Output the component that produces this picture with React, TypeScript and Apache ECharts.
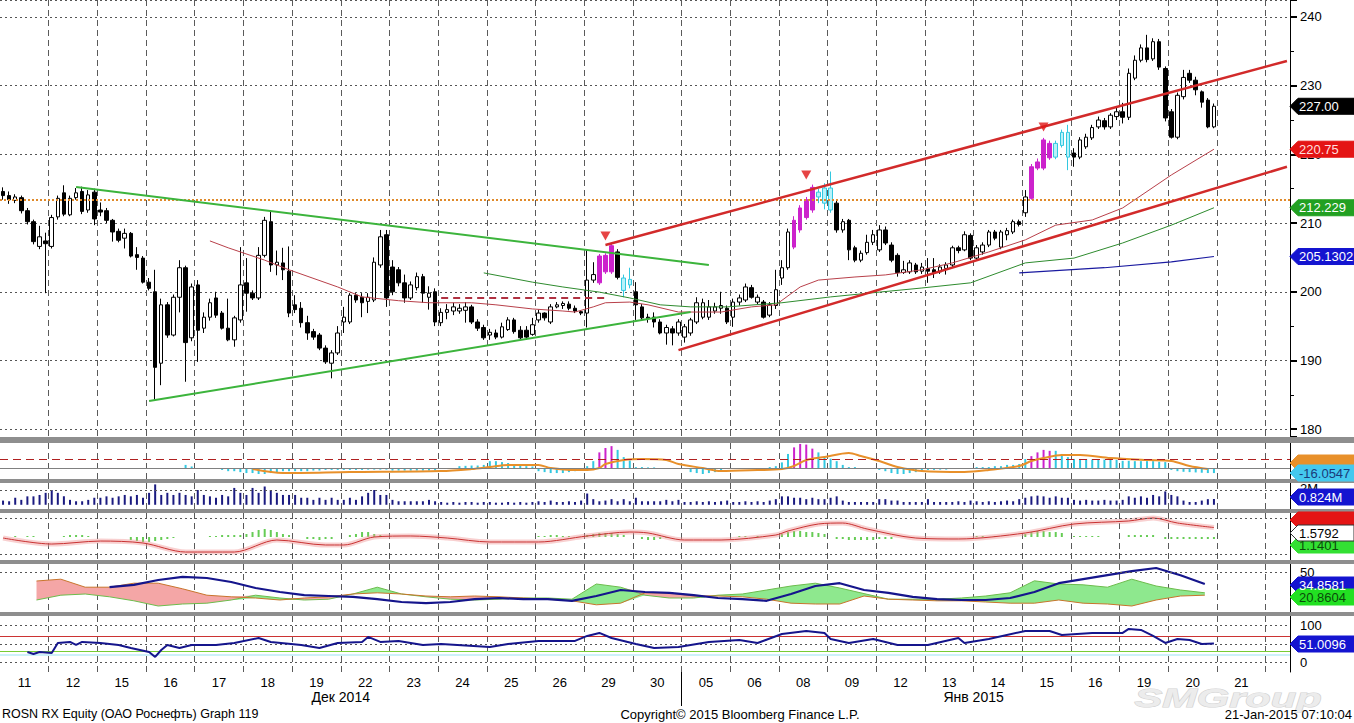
import React, { useEffect, useRef } from 'react';
import * as echarts from 'echarts';

// ---------- categories ----------
const dayLabels = ['11', '12', '15', '16', '17', '18', '19', '22', '23', '24', '25', '26', '29', '30', '05', '06', '08', '09', '12', '13', '14', '15', '16', '19', '20', '21'];
const BARS_PER_DAY = 8;
const TOTAL_SLOTS = 212;
const monthLabels = [
  { text: 'Дек 2014', day: 7.0 },
  { text: 'Янв 2015', day: 20.0 },
];
const yearBoundaryDay = 14;

// ---------- price bars: [open, close, low, high], 8 per trading day ----------
const ohlcByDay: number[][][] = [
  [[214.6, 214.0, 213.4, 215.2], [214.0, 213.4, 212.8, 214.6], [213.3, 213.8, 212.9, 214.2], [213.7, 211.8, 211.4, 214.0], [211.8, 210.2, 209.8, 212.2], [210.2, 207.3, 206.9, 210.5], [206.6, 208.0, 206.2, 209.6], [207.4, 207.0, 199.8, 208.6]],
  [[206.6, 210.8, 206.3, 211.2], [210.9, 213.6, 210.5, 214.0], [214.4, 211.3, 211.0, 215.5], [211.2, 213.6, 211.0, 214.0], [213.7, 214.4, 213.4, 215.1], [214.6, 211.7, 211.3, 215.3], [211.9, 214.1, 211.5, 214.8], [214.5, 210.6, 209.7, 215.0]],
  [[211.9, 211.6, 211.0, 213.0], [211.8, 210.4, 210.0, 212.2], [210.4, 208.7, 207.3, 210.6], [208.8, 207.5, 207.2, 209.2], [207.8, 208.5, 206.3, 209.2], [208.5, 205.2, 205.0, 208.7], [205.4, 205.0, 203.2, 206.5], [204.9, 201.4, 201.2, 205.2]],
  [[201.4, 200.5, 200.2, 202.0], [200.0, 189.0, 184.3, 203.2], [189.6, 198.1, 186.4, 199.0], [198.1, 193.7, 193.3, 198.5], [193.7, 199.2, 193.5, 199.6], [199.2, 203.5, 197.0, 204.6], [203.5, 192.6, 186.9, 203.8], [193.3, 200.7, 192.8, 201.2]],
  [[201.0, 194.4, 189.8, 201.7], [194.7, 196.3, 194.0, 197.0], [196.3, 198.4, 195.8, 199.0], [199.1, 196.6, 196.2, 200.0], [196.9, 194.7, 194.5, 197.2], [194.7, 193.0, 192.8, 199.0], [193.0, 196.2, 192.0, 196.5], [195.9, 201.0, 195.5, 206.5]],
  [[201.3, 199.8, 197.1, 204.9], [199.8, 199.1, 198.8, 200.2], [199.1, 205.3, 198.8, 206.5], [205.3, 210.4, 205.0, 210.9], [210.2, 203.9, 202.9, 211.9], [203.9, 204.3, 202.4, 206.0], [204.2, 203.2, 201.7, 206.4], [203.0, 196.9, 196.3, 206.6]],
  [[198.1, 197.4, 196.9, 199.5], [197.6, 195.5, 194.8, 198.5], [195.5, 194.0, 193.0, 196.5], [194.2, 193.4, 193.0, 194.6], [193.7, 191.8, 191.5, 194.0], [191.8, 189.8, 189.5, 192.2], [189.6, 191.1, 187.4, 191.5], [191.1, 194.0, 190.8, 195.0]],
  [[195.6, 196.3, 194.0, 197.8], [195.6, 199.5, 195.3, 199.8], [199.5, 198.8, 198.4, 199.8], [199.2, 198.4, 196.3, 199.8], [198.6, 199.2, 196.9, 199.8], [198.8, 204.3, 198.5, 205.0], [203.9, 208.0, 203.5, 209.0], [208.3, 199.1, 197.8, 209.0]],
  [[203.6, 200.0, 199.5, 204.6], [203.2, 201.3, 200.8, 203.6], [201.3, 199.1, 198.4, 202.5], [199.1, 201.0, 198.8, 201.5], [200.6, 202.2, 200.2, 202.8], [202.2, 199.8, 198.4, 202.6], [199.2, 199.8, 197.4, 200.8], [200.0, 195.6, 195.0, 200.5]],
  [[195.5, 197.0, 195.0, 197.6], [197.0, 197.4, 196.0, 198.2], [197.2, 197.8, 196.6, 198.4], [197.2, 197.6, 196.8, 198.2], [197.3, 197.8, 195.5, 198.5], [197.8, 195.6, 195.3, 198.1], [195.6, 194.7, 194.3, 196.0], [194.8, 193.3, 193.0, 195.2]],
  [[193.7, 194.1, 193.0, 194.6], [194.0, 193.4, 193.1, 194.5], [193.4, 194.9, 193.2, 195.5], [194.5, 195.9, 194.3, 196.3], [195.9, 194.2, 193.9, 196.2], [194.4, 193.3, 193.1, 195.0], [194.4, 193.4, 193.0, 195.0], [193.8, 195.2, 193.6, 196.2]],
  [[195.9, 196.9, 195.5, 197.4], [196.9, 196.2, 195.8, 197.0], [195.6, 197.8, 195.3, 198.2], [197.8, 198.1, 197.6, 198.5], [198.0, 198.3, 197.5, 198.6], [198.2, 197.6, 197.3, 198.6], [197.6, 197.2, 196.9, 198.0], [197.1, 196.9, 196.6, 197.3]],
  [[196.9, 201.7, 194.8, 206.1], [201.7, 202.5, 201.3, 204.3], [201.3, 205.2, 201.0, 205.5], [202.9, 205.3, 202.6, 205.6], [202.9, 206.7, 202.6, 207.0], [205.8, 202.1, 201.8, 206.2], [202.0, 200.2, 199.2, 202.5], [201.8, 201.0, 200.5, 203.5]],
  [[200.0, 198.1, 195.9, 201.4], [197.8, 196.2, 195.8, 198.2], [196.3, 196.1, 195.5, 196.8], [196.3, 195.6, 194.8, 197.0], [195.6, 194.0, 193.8, 196.0], [194.0, 194.8, 192.3, 195.2], [194.6, 194.0, 192.2, 195.0], [194.0, 195.6, 193.6, 196.0]],
  [[193.4, 194.9, 192.6, 195.3], [194.0, 195.9, 193.6, 196.2], [195.6, 198.4, 195.3, 199.2], [196.3, 198.4, 196.0, 199.0], [196.3, 197.8, 195.9, 198.8], [197.2, 197.8, 196.8, 198.4], [197.6, 198.0, 196.8, 200.0], [197.6, 195.6, 195.3, 198.0]],
  [[196.3, 198.5, 194.9, 199.0], [198.5, 199.1, 198.0, 199.6], [198.8, 200.7, 198.5, 201.2], [200.6, 199.2, 199.0, 201.0], [198.5, 199.2, 198.2, 199.6], [198.5, 196.3, 196.1, 198.8], [196.6, 198.1, 196.3, 198.5], [198.0, 200.3, 197.5, 203.2]],
  [[202.0, 203.5, 201.0, 204.6], [203.5, 208.7, 203.2, 209.2], [206.5, 210.4, 206.2, 211.0], [209.0, 212.2, 208.6, 212.6], [210.8, 213.4, 210.5, 213.8], [211.9, 215.2, 211.5, 215.6], [214.5, 213.8, 212.9, 215.0], [212.9, 215.1, 212.0, 215.8]],
  [[215.1, 211.9, 211.5, 217.5], [212.9, 209.0, 208.6, 213.5], [209.0, 210.2, 208.6, 210.6], [210.4, 206.1, 204.6, 210.6], [206.4, 204.6, 204.3, 206.7], [204.6, 205.6, 204.3, 206.0], [205.7, 207.2, 205.4, 208.3], [207.2, 208.3, 206.8, 209.0]],
  [[206.1, 209.0, 205.8, 209.7], [209.0, 207.1, 206.8, 209.5], [206.8, 204.6, 204.3, 207.2], [205.3, 202.8, 202.2, 205.6], [202.8, 203.2, 202.6, 204.5], [202.9, 204.2, 202.6, 204.6], [203.9, 202.9, 202.6, 204.2], [203.0, 203.6, 202.6, 204.2]],
  [[203.4, 203.0, 201.3, 204.9], [203.2, 202.8, 202.0, 204.9], [202.9, 203.6, 202.6, 204.0], [203.4, 203.9, 202.5, 204.3], [203.9, 206.4, 203.6, 206.7], [206.4, 206.0, 205.6, 206.7], [206.1, 208.3, 205.9, 208.8], [208.2, 204.9, 204.6, 208.5]],
  [[204.9, 206.4, 204.6, 206.8], [205.8, 206.8, 205.4, 207.2], [206.8, 208.7, 206.5, 209.0], [208.7, 207.8, 207.5, 209.0], [206.5, 208.7, 206.2, 209.0], [208.3, 208.9, 207.5, 209.3], [208.7, 210.2, 208.4, 210.5], [210.2, 209.8, 209.5, 210.5]],
  [[211.5, 213.8, 210.9, 214.8], [213.6, 218.2, 213.4, 218.6], [218.0, 218.9, 217.7, 219.4], [218.0, 222.1, 217.7, 222.4], [221.6, 219.5, 219.2, 222.0], [219.6, 221.6, 219.3, 222.0], [221.3, 223.2, 221.0, 223.6], [223.2, 219.6, 217.7, 224.3]],
  [[220.2, 219.6, 218.2, 220.9], [219.6, 222.1, 219.3, 222.5], [221.1, 222.5, 220.8, 223.0], [222.4, 223.9, 222.1, 224.3], [224.0, 225.0, 223.7, 225.5], [224.9, 224.0, 223.6, 225.3], [224.0, 225.7, 223.7, 226.0], [225.5, 226.2, 225.0, 226.8]],
  [[226.2, 225.4, 224.5, 227.5], [225.4, 231.8, 225.0, 232.5], [231.1, 233.7, 230.8, 234.4], [233.7, 235.5, 233.4, 236.0], [235.5, 233.8, 233.4, 237.4], [233.9, 236.4, 233.6, 236.9], [236.4, 232.7, 232.3, 236.8], [232.5, 225.3, 224.8, 232.8]],
  [[226.2, 222.5, 222.3, 226.6], [222.5, 228.6, 222.2, 229.0], [228.4, 231.2, 228.0, 232.3], [231.8, 230.8, 230.4, 232.3], [230.8, 229.4, 228.6, 231.3], [229.1, 227.6, 226.8, 229.3], [227.9, 224.0, 223.8, 228.2], [224.0, 227.0, 223.8, 227.4]],
];

// volume, millions
const volumeByDay: number[][] = [
  [0.6, 0.5, 1.0, 0.7, 1.2, 1.2, 1.4, 1.7],
  [2.1, 1.7, 1.2, 0.7, 0.5, 0.5, 0.7, 1.0],
  [1.0, 1.2, 1.0, 1.2, 1.4, 1.2, 1.4, 1.0],
  [1.7, 2.9, 1.4, 1.7, 1.4, 1.7, 1.4, 1.2],
  [2.1, 1.4, 1.2, 1.0, 1.4, 1.2, 2.4, 1.7],
  [1.4, 2.4, 1.7, 2.6, 2.1, 1.7, 1.4, 1.4],
  [1.4, 1.0, 1.0, 0.7, 1.0, 0.7, 1.0, 0.7],
  [0.7, 1.0, 0.7, 1.2, 1.7, 2.1, 1.4, 1.4],
  [0.7, 0.5, 0.5, 0.5, 0.5, 0.5, 0.7, 0.5],
  [0.4, 0.3, 0.4, 0.3, 0.4, 0.4, 0.3, 0.4],
  [0.4, 0.3, 0.3, 0.4, 0.3, 0.4, 0.3, 0.4],
  [0.5, 0.4, 0.6, 0.4, 0.4, 0.5, 0.4, 0.6],
  [1.6, 0.8, 0.5, 0.6, 0.8, 0.5, 0.8, 0.5],
  [1.0, 0.5, 0.5, 0.5, 0.5, 0.7, 0.5, 0.7],
  [0.4, 0.4, 0.5, 0.4, 0.5, 0.4, 0.5, 0.6],
  [0.4, 0.4, 0.5, 0.4, 0.5, 0.4, 0.6, 0.8],
  [1.2, 1.2, 1.0, 1.0, 0.8, 1.0, 0.8, 0.8],
  [1.0, 1.2, 0.6, 0.4, 0.4, 0.4, 0.4, 0.4],
  [0.8, 0.8, 0.6, 0.6, 0.4, 0.4, 0.4, 0.4],
  [0.8, 0.4, 0.4, 0.4, 0.4, 0.5, 0.4, 0.6],
  [0.5, 0.4, 0.5, 0.4, 0.5, 0.6, 0.5, 0.8],
  [1.0, 1.2, 1.3, 1.2, 1.0, 1.2, 1.0, 1.0],
  [0.7, 0.6, 0.7, 0.6, 0.6, 0.7, 0.6, 0.6],
  [0.7, 1.2, 1.0, 1.2, 1.0, 1.4, 1.2, 1.9],
  [1.4, 1.2, 0.6, 0.4, 0.4, 0.6, 0.8, 0.824],
];

// TD-style highlighted bars (slot indices)
const setupBars = [98, 99, 100, 130, 131, 132, 133, 169, 170, 171, 172];
const countBars = [102, 103, 134, 135, 136, 173, 174, 175];
const sellSignals: number[][] = [[99, 208.1], [132, 217.0], [171, 224.0]];

// moving averages [slot, value]
const maRed: number[][] = [[34, 207.4], [37, 206.4], [43, 204.6], [47, 203.2], [55, 200.7], [59, 199.25], [65, 198.7], [70, 198.4], [77, 198.4], [81, 198.1], [87, 197.5], [92, 197.2], [94, 197.05], [97, 197.8], [99, 198.4], [103, 198.5], [106, 198.1], [111, 197.05], [118, 197.05], [123, 197.8], [127, 198.1], [131, 200.7], [134, 201.7], [140, 202.15], [145, 202.45], [151, 203.2], [156, 204.2], [162, 205.8], [168, 207.55], [173, 209.7], [179, 210.45], [184, 212.2], [192, 217.0], [199, 220.75]];
const maGreen: number[][] = [[79, 202.75], [87, 201.4], [92, 200.7], [98, 199.95], [103, 199.1], [108, 198.1], [113, 197.8], [119, 197.8], [128, 198.4], [136, 199.25], [144, 199.95], [151, 200.55], [159, 201.3], [168, 204.2], [176, 204.9], [184, 207.1], [192, 209.7], [199, 212.229]];
const maBlue: number[][] = [[167, 202.75], [181, 203.5], [192, 204.35], [199, 205.1302]];
const lastClose = 227.0;

// trend lines [slot, value]
const triangleUpper: number[][] = [[12, 215.25], [116, 203.9]];
const triangleLower: number[][] = [[24, 184.1], [113, 197.05]];
const channelUpper: number[][] = [[99, 206.8], [211, 233.6]];
const channelLower: number[][] = [[111, 191.5], [211, 218.2]];
const resistanceDashed: number[][] = [[72, 199.1], [99, 199.1]];
const pivotLevel = 213.36;

// oscillator panel
const oscHist: number[][] = [[30, 10], [31, 5], [36, -6], [37, -10], [38, -10], [39, -13], [40, -16], [41, -16], [42, -19], [43, -19], [44, -16], [45, -13], [46, -10], [47, -10], [48, -10], [49, -10], [50, -10], [51, -8], [52, -8], [53, -6], [54, -6], [55, -6], [56, -6], [57, -6], [58, -6], [59, -6], [60, -5], [61, -5], [62, -5], [63, -5], [64, -8], [65, -8], [66, -8], [67, -8], [68, -8], [69, -8], [70, -8], [71, -8], [75, 6], [76, 7], [77, 8], [78, 8], [79, 10], [80, 22], [81, 22], [82, 19], [83, 16], [84, 13], [85, 10], [86, 6], [87, 5], [88, -10], [89, -13], [90, -16], [91, -16], [92, -16], [93, -13], [94, -10], [95, -6], [96, 6], [97, 22], [98, 50], [99, 64], [100, 70], [101, 58], [102, 35], [103, 24], [104, 3], [105, 3], [106, 2], [107, 2], [108, -3], [109, -3], [110, -3], [111, -3], [113, -13], [114, -16], [115, -19], [116, -16], [117, -13], [118, -10], [120, -3], [121, -3], [122, -3], [123, -3], [124, -2], [125, -2], [126, 3], [127, 6], [128, 18], [129, 45], [130, 66], [131, 77], [132, 75], [133, 62], [134, 50], [135, 34], [136, 30], [137, 22], [138, 10], [139, 3], [140, 3], [141, -3], [142, -3], [143, -3], [144, -6], [145, -10], [146, -16], [147, -19], [148, -19], [149, -16], [150, -13], [151, -10], [152, -6], [153, -6], [154, -5], [155, -5], [156, -3], [157, -3], [158, -3], [159, -3], [160, 3], [161, 3], [162, 3], [163, 6], [164, 6], [165, 10], [166, 10], [167, 13], [168, 29], [169, 38], [170, 50], [171, 58], [172, 55], [173, 55], [174, 45], [175, 35], [176, 29], [177, 29], [178, 29], [179, 27], [180, 27], [181, 27], [182, 26], [183, 26], [184, 23], [185, 23], [186, 22], [187, 22], [188, 22], [189, 22], [190, 20], [191, 19], [192, -6], [193, -10], [194, -12], [195, -13], [196, -14], [197, -15], [198, -16], [199, -16.0547]];
const oscLine: number[][] = [[41, -3.2], [46, -16], [57, -12.8], [72, -9.6], [77, -3.2], [80, 3.2], [83, 9.6], [88, 9.6], [90, 0], [94, -6.4], [96, -6.4], [98, 0], [99, 12.8], [102, 25.6], [105, 28.8], [109, 25.6], [111, 12.8], [115, 0], [118, -9.6], [124, -6.4], [128, -3.2], [130, 6.4], [132, 25.6], [135, 35.2], [139, 48], [141, 38.4], [144, 22.4], [147, 3.2], [151, -9.6], [158, -12.8], [162, -6.4], [167, 6.4], [169, 22.4], [171, 32], [174, 41.6], [177, 41.6], [182, 32], [188, 25.6], [192, 22.4], [195, 6.4], [198, -3.2]];
const oscTrigger = 29;

// MACD panel
const macdLine: number[][] = [[0, -0.17], [8, -1.17], [16, -0.67], [23, -1.0], [30, -2.5], [38, -2.5], [45, -0.5], [53, -1.33], [56, -1.33], [61, 0], [67, 0.17], [73, -0.17], [80, -0.83], [88, -0.83], [96, 0.17], [103, 0.83], [106, 0.67], [112, -0.5], [118, -0.5], [127, 0.33], [129, 1.0], [134, 2.17], [138, 2.33], [142, 1.33], [150, -0.17], [157, -0.33], [168, 0.67], [176, 2.17], [185, 2.67], [189, 3.17], [193, 2.33], [199, 1.5792]];
const macdHist: number[][] = [[2, 0.17], [4, 0.17], [5, 0.17], [10, 0.17], [11, 0.33], [12, 0.33], [13, 0.33], [14, 0.17], [21, -0.5], [22, -0.67], [23, -0.83], [24, -0.83], [25, -0.67], [26, -0.5], [27, -0.33], [28, -0.17], [34, 0.17], [35, 0.17], [36, 0.33], [37, 0.33], [38, 0.33], [39, 0.33], [40, 0.5], [41, 0.83], [42, 1.17], [43, 1.33], [44, 1.17], [45, 0.83], [46, 0.5], [47, 0.33], [50, -0.33], [51, -0.33], [52, -0.5], [53, -0.33], [54, -0.33], [57, 0.33], [58, 0.5], [59, 0.83], [60, 0.83], [61, 0.5], [62, 0.33], [88, 0.17], [89, 0.17], [90, 0.33], [91, 0.33], [92, 0.17], [93, 0.17], [96, 0.33], [97, 0.5], [98, 0.67], [99, 0.67], [100, 0.67], [101, 0.5], [102, 0.33], [105, -0.33], [106, -0.5], [107, -0.5], [108, -0.33], [109, -0.17], [121, 0.17], [122, 0.17], [124, 0.17], [128, 0.5], [129, 0.83], [130, 1.0], [131, 1.0], [132, 0.83], [133, 0.83], [134, 0.67], [135, 0.5], [137, -0.33], [138, -0.33], [139, -0.5], [140, -0.5], [141, -0.5], [142, -0.5], [143, -0.5], [144, -0.33], [145, -0.33], [146, -0.33], [160, 0.17], [161, 0.17], [163, 0.17], [168, 0.5], [169, 0.83], [170, 1.0], [171, 1.0], [172, 0.83], [173, 0.83], [174, 0.67], [176, 0.17], [177, 0.17], [178, 0.17], [179, 0.17], [180, 0.17], [185, 0.33], [186, 0.33], [187, 0.33], [188, 0.33], [189, 0.33], [191, -0.33], [192, -0.33], [193, -0.33], [194, -0.33], [195, -0.33], [196, -0.33], [197, -0.33], [198, -0.33], [199, -0.33]];

// DMI panel, one value per half day
const adx: (number | null)[] = [null, null, null, null, 31, 34, 40, 44, 42.5, 37.5, 30, 25, 21, 20, 19, 16, 12.5, 11, 12.5, 16, 17.5, 16, 16, 14, 20, 27.5, 25, 24, 21, 17.5, 16, 14, 22.5, 32.5, 36, 27.5, 24, 19, 16, 15, 15, 17.5, 25, 36, 41, 46, 51, 55, 46, 35];
const diPlus: (number | null)[] = [null, 15, 21, 22.5, 19, 14, 7.5, 10, 11, 15, 21, 17.5, 15, 16, 22.5, 31, 22.5, 19, 16, 15, 16, 17.5, 17.5, 16, 35, 31, 21, 17.5, 17.5, 21, 22.5, 27.5, 32.5, 36, 30, 23, 16, 16, 16, 17.5, 20, 24, 39, 35, 34, 31, 41, 32.5, 27.5, 24];
const diMinus: (number | null)[] = [null, 38.75, 41, 31, 31, 36, 36, 29, 21, 19, 17.5, 15, 17.5, 19, 22.5, 24, 22.5, 20, 19, 20, 19, 17.5, 16, 14, 9, 11, 24, 24, 20, 20, 19, 16, 11, 10, 10, 20, 16, 15, 14, 14, 12.5, 11, 11, 15, 11, 10, 7.5, 15, 20, 21];

// RSI panel [slot, value]
const rsi: number[][] = [[4, 28.7], [5, 23.3], [6, 28.7], [8, 26], [9, 52.8], [11, 55.5], [12, 47.5], [13, 55.5], [16, 52.8], [19, 47.5], [21, 39.4], [24, 28.7], [25, 15.3], [26, 34], [27, 47.5], [29, 39.4], [31, 47.5], [35, 47.5], [38, 52.8], [42, 66.2], [44, 55.5], [49, 47.5], [52, 39.4], [55, 52.8], [59, 55.5], [60, 68.9], [62, 55.5], [65, 58.2], [69, 47.5], [72, 50.1], [80, 42.1], [83, 50.1], [88, 58.2], [94, 58.2], [96, 71.6], [98, 79.6], [100, 66.2], [104, 50.1], [107, 39.4], [111, 42.1], [116, 55.5], [121, 60.9], [124, 52.8], [128, 76.9], [132, 85], [135, 79.6], [136, 63.5], [139, 52.8], [143, 63.5], [147, 47.5], [152, 47.5], [157, 66.2], [158, 52.8], [162, 63.5], [168, 85], [172, 85], [174, 74.3], [179, 79.6], [184, 79.6], [185, 90.3], [187, 87.7], [189, 71.6], [191, 52.8], [193, 63.5], [195, 60.9], [197, 50.1], [199, 51.0096]];
const rsiOverbought = 70;
const rsiOversold = 30;
const rsiBand = 21;

// ---------- styling ----------
const FONT = '"Liberation Sans", Arial, sans-serif';
const MAGENTA = '#cc22cc';
const CYAN = '#33c8e0';
const RIGHT = 64;
const PLOT_W = 1354 - RIGHT;

const slotNames: string[] = [];
for (let i = 0; i < TOTAL_SLOTS; i++) {
  const d = Math.floor(i / BARS_PER_DAY);
  slotNames.push(`${dayLabels[d] ?? ''}|${i}`);
}
const halfDayNames: string[] = [];
for (let i = 0; i < TOTAL_SLOTS / 4; i++) halfDayNames.push(`h${i}`);

function App() {
  const ref = useRef<HTMLDivElement>(null);

  useEffect(() => {
    document.body.style.margin = '0';
    document.body.style.overflow = 'hidden';
    if (!ref.current) return;
    const chart = echarts.init(ref.current, undefined, { renderer: 'svg' });

    const grids = [
      { left: 0, right: RIGHT, top: 0, height: 437 },
      { left: 0, right: RIGHT, top: 443, height: 36 },
      { left: 0, right: RIGHT, top: 483, height: 26 },
      { left: 0, right: RIGHT, top: 513, height: 47 },
      { left: 0, right: RIGHT, top: 564, height: 48 },
      { left: 0, right: RIGHT, top: 616, height: 56 },
    ];

    const dayGrid = {
      show: true,
      interval: (i: number) => i > 0 && i % BARS_PER_DAY === 0,
      lineStyle: { color: '#5a5a5a', type: [6, 4], width: 1 },
    };

    const catAxis = (gridIndex: number, extra: any = {}) => ({
      type: 'category', gridIndex, data: slotNames, boundaryGap: true,
      axisLine: { show: false }, axisTick: { show: false }, axisLabel: { show: false },
      splitLine: dayGrid,
      ...extra,
    });

    const xAxes: any[] = [
      catAxis(0), catAxis(1), catAxis(2), catAxis(3), catAxis(4),
      catAxis(5, {
        axisLabel: {
          show: true, color: '#000', fontSize: 13, fontFamily: FONT, margin: 4,
          padding: [0, 6, 0, 0],
          interval: (i: number) => i % BARS_PER_DAY === 4 && Math.floor(i / BARS_PER_DAY) < dayLabels.length,
          formatter: (v: string) => v.split('|')[0],
        },
      }),
      { type: 'category', gridIndex: 4, data: halfDayNames, boundaryGap: true, show: false, position: 'top' },
    ];

    const sideAxis = (gridIndex: number, min: number, max: number, extra: any = {}) => ({
      type: 'value', gridIndex, position: 'right', min, max,
      axisLine: { show: true, lineStyle: { color: '#000', width: 1 } },
      axisTick: { show: false }, axisLabel: { show: false }, splitLine: { show: false },
      ...extra,
    });

    const yAxes: any[] = [
      sideAxis(0, 178.86, 242.47, {
        axisTick: { show: true, length: 7, lineStyle: { color: '#000', width: 2 } },
        minorTick: { show: true, splitNumber: 2, length: 4, lineStyle: { color: '#000' } },
        axisLabel: {
          show: true, color: '#000', fontSize: 13, fontFamily: FONT, margin: 10,
          formatter: (v: number) => (Math.abs(v % 10) < 1e-6 ? String(v) : ''),
        },
        splitLine: { show: true, lineStyle: { color: '#555', type: [2, 3], width: 1 } },
      }),
      sideAxis(1, -35, 80),
      sideAxis(2, -0.6, 3.1),
      sideAxis(3, -3.83, 4),
      sideAxis(4, 0, 60, {
        interval: 10,
        axisLabel: { show: true, color: '#000', fontSize: 13, fontFamily: FONT, margin: 10, formatter: (v: number) => (v === 50 ? '50' : '') },
      }),
      sideAxis(5, -25, 125, {
        interval: 25,
        axisLabel: { show: true, color: '#000', fontSize: 13, fontFamily: FONT, margin: 10, formatter: (v: number) => (v === 0 || v === 100 ? String(v) : '') },
      }),
    ];

    const hline = (yAxis: number, color: string, type: any, width = 1) => ({
      yAxis, lineStyle: { color, type, width },
    });

    const line = (name: string, data: any[], color: string, width: number, xi: number, yi: number, extra: any = {}) => ({
      name, type: 'line', data, xAxisIndex: xi, yAxisIndex: yi, symbol: 'none', silent: true,
      lineStyle: { color, width }, z: 4, ...extra,
    });

    const candleData = ohlcByDay.flat().map((v, i) => {
      if (setupBars.includes(i)) {
        return { value: v, itemStyle: { color: MAGENTA, color0: MAGENTA, borderColor: MAGENTA, borderColor0: MAGENTA } };
      }
      if (countBars.includes(i)) {
        return { value: v, itemStyle: { color: '#b8f2fa', color0: '#111', borderColor: CYAN, borderColor0: CYAN } };
      }
      return v;
    });

    const volumes = volumeByDay.flat();
    const oscBars = oscHist.map(([i, v]) => ({ value: [i, v], itemStyle: { color: setupBars.includes(i) ? MAGENTA : CYAN } }));

    const dmiBase = diPlus.map((p, k) => (p == null || diMinus[k] == null ? null : Math.min(p, diMinus[k] as number)));
    const dmiUp = diPlus.map((p, k) => (p == null || diMinus[k] == null ? null : Math.max(p - (diMinus[k] as number), 0)));
    const dmiDown = diPlus.map((p, k) => (p == null || diMinus[k] == null ? null : Math.max((diMinus[k] as number) - p, 0)));

    const mlCommon = { symbol: 'none', silent: true, label: { show: false } };

    const series: any[] = [
      {
        name: 'ROSN', type: 'candlestick', data: candleData, xAxisIndex: 0, yAxisIndex: 0, barWidth: 4, z: 3,
        itemStyle: { color: '#ffffff', color0: '#000000', borderColor: '#000000', borderColor0: '#000000', borderWidth: 1 },
        markLine: { ...mlCommon, data: [hline(pivotLevel, '#e08a2a', [2, 2], 2)] },
      },
      line('MA red', maRed, '#b8404a', 1, 0, 0),
      line('MA green', maGreen, '#2e8b2e', 1, 0, 0),
      line('MA blue', maBlue, '#1a1aa0', 1.2, 0, 0),
      line('Triangle upper', triangleUpper, '#3cb43c', 2, 0, 0, { z: 5 }),
      line('Triangle lower', triangleLower, '#3cb43c', 2, 0, 0, { z: 5 }),
      line('Channel upper', channelUpper, '#d22a2a', 2.5, 0, 0, { z: 5 }),
      line('Channel lower', channelLower, '#d22a2a', 2.5, 0, 0, { z: 5 }),
      line('Resistance', resistanceDashed, '#b03040', 2, 0, 0, { lineStyle: { color: '#b03040', width: 2, type: [7, 5] } }),
      {
        name: 'Sell', type: 'scatter', data: sellSignals, xAxisIndex: 0, yAxisIndex: 0,
        symbol: 'triangle', symbolRotate: 180, symbolSize: [10, 9], itemStyle: { color: '#e01515' }, z: 6, silent: true,
      },
      // oscillator
      {
        name: 'Osc hist', type: 'bar', data: oscBars, xAxisIndex: 1, yAxisIndex: 1, barWidth: 2, silent: true,
        markLine: { ...mlCommon, data: [hline(oscTrigger, '#b02020', [8, 5], 1), hline(0, '#808080', 'solid', 1)] },
      },
      line('Osc line', oscLine, '#e8902a', 2, 1, 1, { smooth: 0.3 }),
      // volume
      {
        name: 'Volume', type: 'bar', data: volumes, xAxisIndex: 2, yAxisIndex: 2, barWidth: 2, silent: true,
        itemStyle: { color: '#1a1a80' },
        markLine: { ...mlCommon, data: [hline(2, '#555', [2, 3], 1)] },
      },
      // MACD
      {
        name: 'MACD hist', type: 'bar', data: macdHist, xAxisIndex: 3, yAxisIndex: 3, barWidth: 2, silent: true,
        itemStyle: { color: '#66cc55' },
        markLine: { ...mlCommon, data: [hline(3.1, '#555', [2, 3], 1), hline(-2.8, '#555', [2, 3], 1)] },
      },
      line('MACD halo', macdLine, 'rgba(240,150,150,0.45)', 5, 3, 3, { smooth: 0.3, z: 3 }),
      line('MACD', macdLine, '#c83232', 1, 3, 3, { smooth: 0.3 }),
      // DMI
      line('DMI base', dmiBase, 'rgba(0,0,0,0)', 0, 6, 4, { stack: 'dmi', z: 2 }),
      line('DMI up', dmiUp, 'rgba(0,0,0,0)', 0, 6, 4, { stack: 'dmi', z: 2, areaStyle: { color: '#8ee88e', opacity: 1 } }),
      line('DMI down', dmiDown, 'rgba(0,0,0,0)', 0, 6, 4, { stack: 'dmi', z: 2, areaStyle: { color: '#f4a6a6', opacity: 1 } }),
      line('DI+', diPlus, '#6cbc4c', 1, 6, 4),
      line('DI-', diMinus, '#c8742c', 1, 6, 4),
      line('ADX', adx, '#15158c', 2.2, 6, 4, {
        markLine: { ...mlCommon, data: [hline(50, '#555', [2, 3], 1)] },
      }),
      // RSI levels (drawn beneath the RSI line)
      {
        name: 'RSI levels', type: 'line', data: [], xAxisIndex: 5, yAxisIndex: 5, silent: true, z: 1,
        markLine: {
          ...mlCommon,
          data: [
            hline(100, '#555', [2, 3], 1), hline(50, '#555', [2, 3], 1), hline(0, '#555', [2, 3], 1),
            hline(rsiBand, '#cdf1f8', 'solid', 2),
            hline(rsiOverbought, '#cc3333', 'solid', 1), hline(rsiOversold, '#77cc33', 'solid', 1),
          ],
        },
      },
      line('RSI', rsi, '#15158c', 2, 5, 5, { z: 5 }),
    ];

    chart.setOption({
      animation: false,
      backgroundColor: '#ffffff',
      textStyle: { fontFamily: FONT },
      grid: grids,
      xAxis: xAxes,
      yAxis: yAxes,
      series,
    });

    const slotW = PLOT_W / TOTAL_SLOTS;
    const py = (axis: number, v: number) => chart.convertToPixel({ yAxisIndex: axis } as any, v) as number;

    const tag = (y: number, text: string, bg: string, fg: string, stroke?: string) => [
      {
        type: 'polygon', z: 100,
        shape: { points: [[PLOT_W, y], [PLOT_W + 8, y - 8], [1354, y - 8], [1354, y + 8], [PLOT_W + 8, y + 8]] },
        style: { fill: bg, stroke: stroke || bg, lineWidth: 1 },
      },
      {
        type: 'text', z: 101, x: PLOT_W + 9, y,
        style: { text, fill: fg, font: `13px ${FONT}`, verticalAlign: 'middle', align: 'left' },
      },
    ];

    const band = (y: number, h: number) => ({
      type: 'rect', z: 50, shape: { x: 0, y, width: 1354, height: h }, style: { fill: '#8e8e8e' },
    });

    const graphic: any[] = [
      band(437, 6), band(479, 4), band(509, 4), band(560, 4), band(612, 4),
      { type: 'line', z: 60, shape: { x1: yearBoundaryDay * BARS_PER_DAY * slotW, y1: 672, x2: yearBoundaryDay * BARS_PER_DAY * slotW, y2: 706 }, style: { stroke: '#000', lineWidth: 1 } },
      ...monthLabels.map((m) => ({
        type: 'text', z: 60, x: m.day * BARS_PER_DAY * slotW, y: 697,
        style: { text: m.text, fill: '#000', font: `14px ${FONT}`, align: 'center', verticalAlign: 'middle' },
      })),
      {
        type: 'text', z: 40, x: 1228, y: 698, scaleX: 1.6,
        style: { text: 'SMGroup', fill: '#ececec', stroke: '#d2d2d2', lineWidth: 1, font: `italic bold 26px ${FONT}`, align: 'center', verticalAlign: 'middle' },
      },
      { type: 'text', z: 60, x: 2, y: 714, style: { text: 'ROSN RX Equity (ОАО Роснефть) Graph 119', fill: '#000', font: `12.5px ${FONT}`, verticalAlign: 'middle' } },
      { type: 'text', z: 60, x: 740, y: 714, style: { text: 'Copyright© 2015 Bloomberg Finance L.P.', fill: '#000', font: `13px ${FONT}`, align: 'center', verticalAlign: 'middle' } },
      { type: 'text', z: 60, x: 1352, y: 714, style: { text: '21-Jan-2015 07:10:04', fill: '#000', font: `13px ${FONT}`, align: 'right', verticalAlign: 'middle' } },
      { type: 'text', z: 60, x: PLOT_W + 10, y: 488, style: { text: '2M', fill: '#000', font: `13px ${FONT}`, verticalAlign: 'middle' } },
      ...tag(py(0, lastClose), lastClose.toFixed(2), '#000000', '#ffffff'),
      ...tag(py(0, maRed[maRed.length - 1][1]), '220.75', '#e41414', '#ffdede'),
      ...tag(py(0, maGreen[maGreen.length - 1][1]), '212.229', '#22a022', '#ffffff'),
      ...tag(py(0, maBlue[maBlue.length - 1][1]), '205.1302', '#1414d0', '#ffffff'),
      ...tag(463, '', '#e8902a', '#000'),
      ...tag(473, '-16.0547', '#44c8ee', '#1a3a7a'),
      ...tag(497, '0.824M', '#1414d0', '#ffffff'),
      ...tag(520, '', '#e41414', '#fff'),
      ...tag(545, '1.1401', '#33e033', '#0a4a0a'),
      ...tag(533, '1.5792', '#ffffff', '#000000', '#333'),
      ...tag(585, '34.8581', '#1414d0', '#ffffff'),
      ...tag(597, '20.8604', '#22e022', '#0a4a0a'),
      ...tag(644, '51.0096', '#1414d0', '#ffffff'),
    ];

    chart.setOption({ graphic });

    return () => chart.dispose();
  }, []);

  return <div ref={ref} style={{ width: 1354, height: 723 }} />;
}

export default App;
